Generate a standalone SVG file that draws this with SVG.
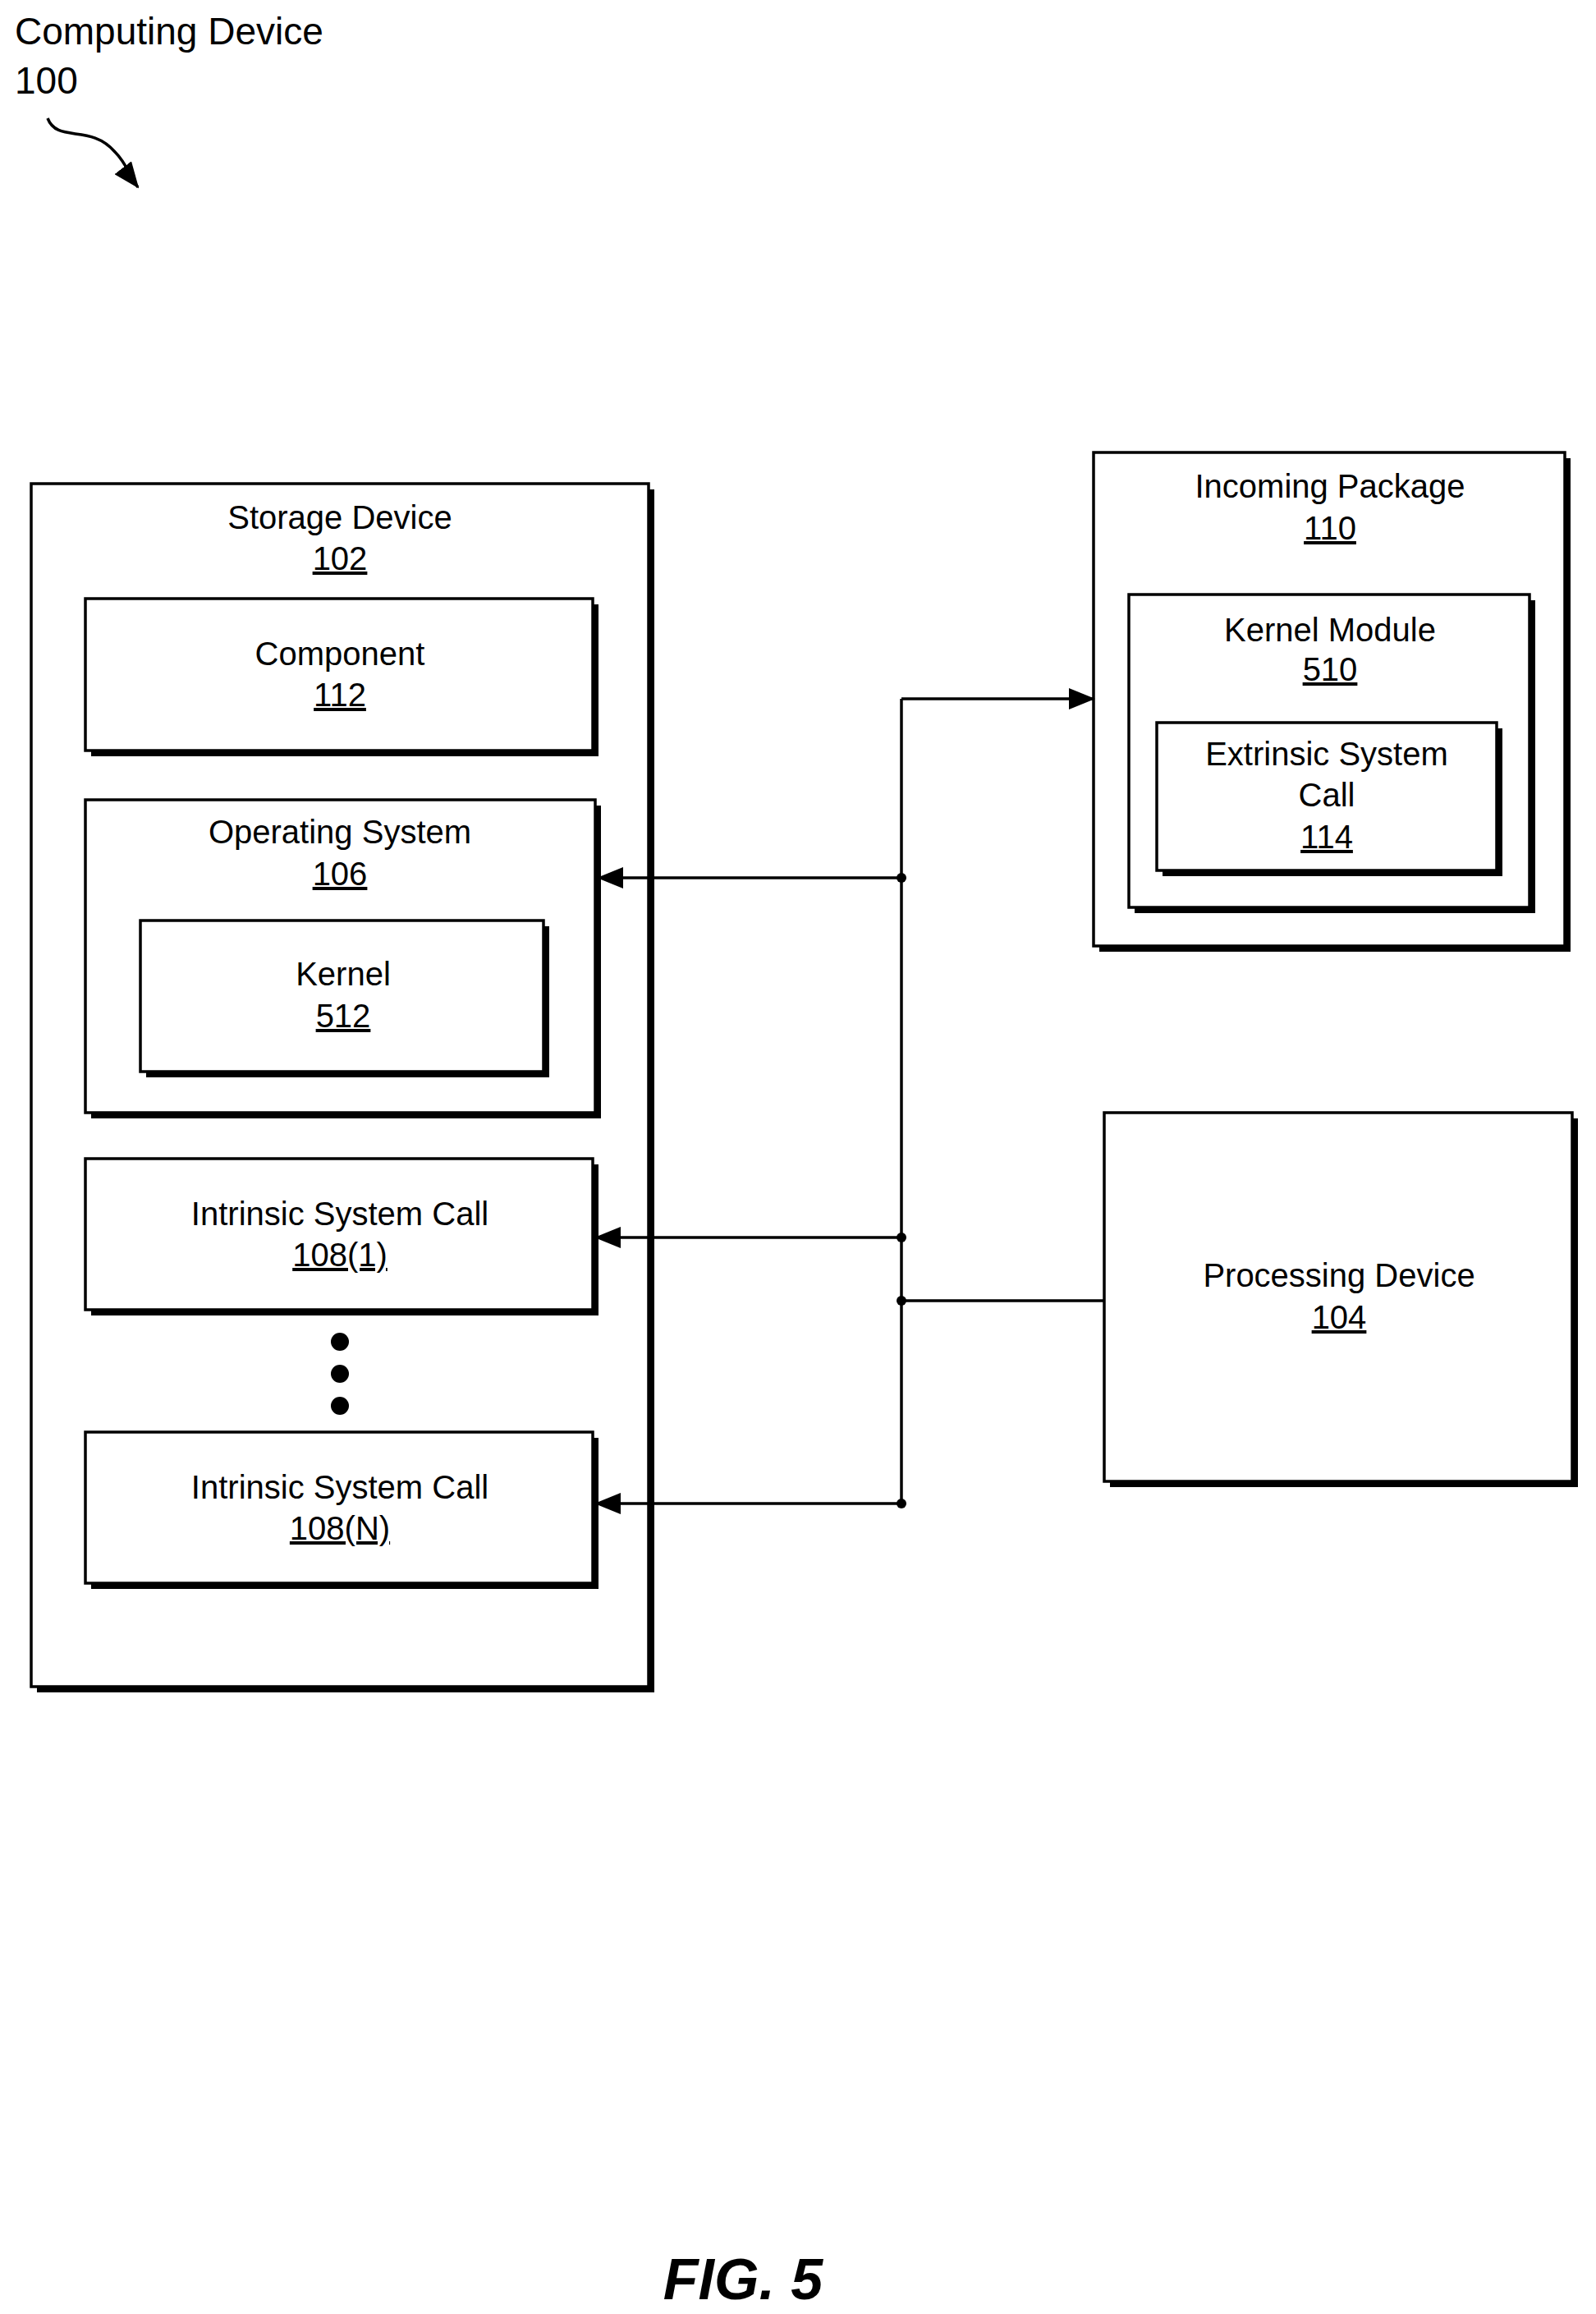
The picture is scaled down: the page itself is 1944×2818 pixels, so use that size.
<svg xmlns="http://www.w3.org/2000/svg" width="1944" height="2818" viewBox="0 0 1944 2818">
<style>
text{font-family:"Liberation Sans",Arial,sans-serif;font-size:40px;text-anchor:middle;fill:#000}
.u{text-decoration:underline}
.sh{fill:#000}
.bx{fill:#fff;stroke:#000;stroke-width:3.5}
.ln{stroke:#000;stroke-width:3.5;fill:none}
</style>
<defs>
<marker id="ah" markerWidth="10" markerHeight="10" refX="9" refY="5" orient="auto" markerUnits="userSpaceOnUse" viewBox="0 0 10 10"><path d="M0,0 L10,5 L0,10 z" fill="#000"/></marker>
<marker id="ah2" markerWidth="32" markerHeight="26" refX="30" refY="13" orient="auto" markerUnits="userSpaceOnUse"><path d="M0,0 L32,13 L0,26 z" fill="#000"/></marker>
</defs>
<g id="title">
<text x="18" y="54" style="text-anchor:start;font-size:46px">Computing Device</text>
<text x="18" y="114" style="text-anchor:start;font-size:46px">100</text>
<path class="ln" d="M58,144 C70,175 110,150 140,185 C155,200 158,215 168,228" marker-end="url(#ah2)"/>
</g>
<g id="storage">
<rect class="sh" x="45" y="596" width="752" height="1465"/>
<rect class="bx" x="38" y="589" width="752" height="1465"/>
<text x="414" y="644">Storage Device</text>
<text x="414" y="694" class="u">102</text>
</g>
<g id="component">
<rect class="sh" x="111" y="736" width="618" height="185"/>
<rect class="bx" x="104" y="729" width="618" height="185"/>
<text x="414" y="810">Component</text>
<text x="414" y="860" class="u">112</text>
</g>
<g id="os">
<rect class="sh" x="111" y="981" width="621" height="381"/>
<rect class="bx" x="104" y="974" width="621" height="381"/>
<text x="414" y="1027">Operating System</text>
<text x="414" y="1078" class="u">106</text>
</g>
<g id="kernel">
<rect class="sh" x="178" y="1128" width="491" height="184"/>
<rect class="bx" x="171" y="1121" width="491" height="184"/>
<text x="418" y="1200">Kernel</text>
<text x="418" y="1251" class="u">512</text>
</g>
<g id="isc1">
<rect class="sh" x="111" y="1418" width="618" height="184"/>
<rect class="bx" x="104" y="1411" width="618" height="184"/>
<text x="414" y="1492">Intrinsic System Call</text>
<text x="414" y="1542" class="u">108(1)</text>
</g>
<g id="dots">
<circle cx="414" cy="1634" r="11"/>
<circle cx="414" cy="1673" r="11"/>
<circle cx="414" cy="1712" r="11"/>
</g>
<g id="iscN">
<rect class="sh" x="111" y="1751" width="618" height="184"/>
<rect class="bx" x="104" y="1744" width="618" height="184"/>
<text x="414" y="1825">Intrinsic System Call</text>
<text x="414" y="1875" class="u">108(N)</text>
</g>
<g id="package">
<rect class="sh" x="1339" y="558" width="574" height="601"/>
<rect class="bx" x="1332" y="551" width="574" height="601"/>
<text x="1620" y="606">Incoming Package</text>
<text x="1620" y="657" class="u">110</text>
</g>
<g id="kmodule">
<rect class="sh" x="1382" y="731" width="488" height="381"/>
<rect class="bx" x="1375" y="724" width="488" height="381"/>
<text x="1620" y="781">Kernel Module</text>
<text x="1620" y="829" class="u">510</text>
</g>
<g id="extrinsic">
<rect class="sh" x="1416" y="887" width="414" height="180"/>
<rect class="bx" x="1409" y="880" width="414" height="180"/>
<text x="1616" y="932">Extrinsic System</text>
<text x="1616" y="982">Call</text>
<text x="1616" y="1033" class="u">114</text>
</g>
<g id="processing">
<rect class="sh" x="1352" y="1362" width="570" height="449"/>
<rect class="bx" x="1345" y="1355" width="570" height="449"/>
<text x="1631" y="1567">Processing Device</text>
<text x="1631" y="1618" class="u">104</text>
</g>
<g id="connectors">
<line class="ln" x1="1098" y1="851" x2="1098" y2="1831"/>
<line class="ln" x1="1098" y1="851" x2="1332" y2="851" marker-end="url(#ah2)"/>
<line class="ln" x1="1098" y1="1069" x2="729" y2="1069" marker-end="url(#ah2)"/>
<line class="ln" x1="1098" y1="1507" x2="726" y2="1507" marker-end="url(#ah2)"/>
<line class="ln" x1="1098" y1="1584" x2="1345" y2="1584"/>
<line class="ln" x1="1098" y1="1831" x2="726" y2="1831" marker-end="url(#ah2)"/>
<circle cx="1098" cy="1069" r="6"/>
<circle cx="1098" cy="1507" r="6"/>
<circle cx="1098" cy="1584" r="6"/>
<circle cx="1098" cy="1831" r="6"/>
</g>
<text x="905" y="2800" style="font-size:70px;font-weight:bold;font-style:italic">FIG. 5</text>
</svg>
